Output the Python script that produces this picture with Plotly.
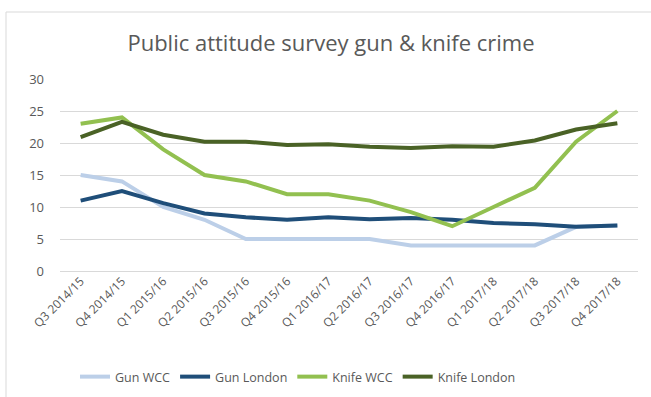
import plotly.graph_objects as go

categories = ["Q3 2014/15", "Q4 2014/15", "Q1 2015/16", "Q2 2015/16", "Q3 2015/16",
              "Q4 2015/16", "Q1 2016/17", "Q2 2016/17", "Q3 2016/17", "Q4 2016/17",
              "Q1 2017/18", "Q2 2017/18", "Q3 2017/18", "Q4 2017/18"]
gun_wcc = [15, 14, 10, 8, 5, 5, 5, 5, 4, 4, 4, 4, 6.9, 7.1]
gun_london = [11, 12.5, 10.6, 9, 8.4, 8, 8.4, 8.1, 8.3, 8.0, 7.5, 7.3, 6.9, 7.1]
knife_wcc = [23, 24, 19, 15, 14, 12, 12, 11, 9.2, 7, 10, 13, 20.2, 25]
knife_london = [20.9, 23.3, 21.3, 20.2, 20.2, 19.7, 19.8, 19.4, 19.2, 19.5, 19.4, 20.4, 22.1, 23.1]

series = [
    ("Gun WCC", gun_wcc, "#BCCFE8"),
    ("Gun London", gun_london, "#1F4E79"),
    ("Knife WCC", knife_wcc, "#92C050"),
    ("Knife London", knife_london, "#4A6226"),
]

fig = go.Figure()
for name, vals, color in series:
    fig.add_trace(go.Scatter(x=categories, y=vals, name=name, mode="lines",
                             line=dict(color=color, width=4)))

W, H = 651, 397
ml, mr, mt, mb = 60, 13, 79, 126
pw, ph = W - ml - mr, H - mt - mb

def px(x):
    return (x - ml) / pw

def py(y):
    return (H - mb - y) / ph

fig.update_layout(
    width=W, height=H,
    margin=dict(l=ml, r=mr, t=mt, b=mb, autoexpand=False),
    paper_bgcolor="white", plot_bgcolor="white",
    font=dict(family="Open Sans, Noto Sans, sans-serif", color="#595959", size=12),
    title=dict(text="Public attitude survey gun & knife crime",
               x=331 / W, xref="container", xanchor="center",
               y=1 - 43 / H, yanchor="middle",
               font=dict(size=22, color="#595959")),
    showlegend=True,
    legend=dict(orientation="h", x=px(298), xanchor="center", xref="paper",
                y=py(377), yanchor="middle", font=dict(size=12.5, color="#595959"),
                tracegroupgap=0),
    xaxis=dict(type="category", range=[-0.5, 13.5], tickangle=-45,
               showgrid=False, showline=False, ticks="",
               tickfont=dict(size=12, color="#595959")),
    yaxis=dict(range=[0, 30], tickvals=[0, 5, 10, 15, 20, 25, 30],
               showgrid=True, gridcolor="#D9D9D9", gridwidth=1,
               zeroline=True, zerolinecolor="#D9D9D9", zerolinewidth=1,
               showline=False, ticks="", ticklabelstandoff=15,
               tickfont=dict(size=13, color="#595959")),
    shapes=[dict(type="rect", xref="paper", yref="paper",
                 x0=px(6), x1=px(700), y0=py(460), y1=py(12),
                 line=dict(color="#D9D9D9", width=1), fillcolor="rgba(0,0,0,0)",
                 layer="below")],
)

fig.write_html("out.html")
